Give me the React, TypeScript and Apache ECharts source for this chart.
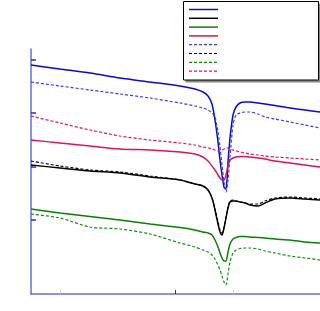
import React, { useEffect, useRef } from "react";
import * as echarts from "echarts";

// x positions (arbitrary units along the axis)
const xs = [0, 29, 59, 89, 119, 149, 164, 172, 177, 181, 184, 187, 189, 191, 193, 195, 197, 199, 202, 205, 209, 214, 219, 227, 234, 244, 259, 274, 289];

const blueSolid = [229, 225, 221, 216, 212, 208, 205, 202, 198, 190, 174, 152, 134, 119, 107, 105, 132, 156, 179, 187, 191, 192, 192, 191, 190, 188.5, 186, 184, 182];
const blackSolid = [129, 126, 123, 121, 117, 114, 110, 108, 104, 96, 84, 70, 62, 59, 66, 76, 86, 92, 93, 93, 92, 91, 89, 88, 91, 95, 96, 95, 94];
const greenSolid = [85, 81, 77.5, 74, 70, 66.5, 64, 62, 61, 59, 54, 47, 41, 36, 33, 33, 42, 50, 55, 56.5, 57.5, 57.5, 57, 56.5, 56, 55, 54, 52, 51];
const crimsonSolid = [154, 151, 148, 145, 144, 142, 140, 137, 133, 128, 124, 119, 116, 114, 114, 119, 128, 134, 136, 137, 137.5, 137.5, 137, 136, 135, 133, 131, 129, 127];
const blueDotted = [212, 208, 204, 200, 196, 191, 188, 186, 184, 181, 177, 162, 147, 129, 112, 102, 114, 137, 169, 179, 181, 182, 182, 180, 177, 175, 172, 169, 166];
const blackDotted = [133, 128, 124, 122, 118, 114, 110, 108, 104, 96, 85, 72, 64, 61, 67, 77, 87, 93, 94, 93, 92, 91, 90, 90, 93, 96, 97, 96, 95];
const greenDotted = [80, 76, 67, 65, 60, 51, 47, 44, 42, 39, 35, 29, 24, 18, 12, 9, 20, 32, 41, 44, 45.5, 46, 46, 45, 43, 41, 38, 36, 34];
const crimsonDotted = [178, 171, 164, 158, 154, 151, 149, 147, 146, 145, 144, 143, 143, 144, 145, 146, 146, 145, 144, 143, 142, 141, 140, 139, 138, 137, 136, 135, 134];

const yTicks = [74, 127, 181, 234];
const xMajorTicks = [144];
const xMinorTicks = [29, 202];

const seriesDefs = [
  { name: "A", data: blueSolid, color: "#0a0ad8", dash: null as null | number[] },
  { name: "B", data: blackSolid, color: "#000000", dash: null },
  { name: "C", data: greenSolid, color: "#0a800a", dash: null },
  { name: "D", data: crimsonSolid, color: "#e0125c", dash: null },
  { name: "E", data: blueDotted, color: "#3c3cf0", dash: [3, 2] },
  { name: "F", data: blackDotted, color: "#000000", dash: [3, 2] },
  { name: "G", data: greenDotted, color: "#0a900a", dash: [3, 2] },
  { name: "H", data: crimsonDotted, color: "#e0125c", dash: [3, 2] },
];

export default function App() {
  const ref = useRef<HTMLDivElement>(null);
  useEffect(() => {
    if (!ref.current) return;
    const chart = echarts.init(ref.current, undefined, { renderer: "svg" });
    const legendYs = [9.5, 18.3, 27.1, 35.9, 44.7, 53.5, 62.3, 71.1];
    const graphic: any[] = [
      { type: "rect", shape: { x: 185.5, y: 3.5, width: 135, height: 79 }, style: { fill: "#888888" }, z: 10 },
      { type: "rect", shape: { x: 183.5, y: 1.5, width: 135, height: 78.5 }, style: { fill: "#ffffff", stroke: "#000000", lineWidth: 1 }, z: 11 },
    ];
    seriesDefs.forEach((s, i) => {
      graphic.push({
        type: "line",
        shape: { x1: 189, y1: legendYs[i], x2: 218, y2: legendYs[i] },
        style: { stroke: s.color, lineWidth: s.dash ? 1.2 : 1.5, lineDash: s.dash || undefined },
        z: 12,
      });
    });
    chart.setOption({
      animation: false,
      grid: { left: 31, top: 49, right: 0, bottom: 17 },
      xAxis: [
        {
          type: "value",
          min: 0,
          max: 289,
          axisLine: { show: true, lineStyle: { color: "#6a6ae0", width: 1.5 } },
          axisTick: { show: true, inside: true, length: 4, customValues: xMajorTicks, lineStyle: { color: "#2a2ad0" } },
          axisLabel: { show: false },
          splitLine: { show: false },
        },
        {
          type: "value",
          min: 0,
          max: 289,
          position: "bottom",
          axisLine: { show: false },
          axisTick: { show: true, inside: true, length: 4, customValues: xMinorTicks, lineStyle: { color: "#c8c8f2" } },
          axisLabel: { show: false },
          splitLine: { show: false },
        },
      ],
      yAxis: {
        type: "value",
        min: 0,
        max: 245,
        axisLine: { show: true, lineStyle: { color: "#6a6ae0", width: 1.5 } },
        axisTick: { show: true, inside: true, length: 5, customValues: yTicks, lineStyle: { color: "#2a2ad0", width: 1.5 } },
        axisLabel: { show: false },
        splitLine: { show: false },
      },
      graphic,
      series: seriesDefs.map((s) => ({
        name: s.name,
        type: "line",
        xAxisIndex: 0,
        data: xs.map((x, i) => [x, s.data[i]]),
        showSymbol: false,
        symbol: "none",
        smooth: 0.25,
        lineStyle: { color: s.color, width: s.dash ? 1.2 : 1.5, type: s.dash ? s.dash : "solid" },
        z: 2,
      })),
    });
    return () => chart.dispose();
  }, []);
  return <div ref={ref} style={{ position: "fixed", left: 0, top: 0, width: 320, height: 311 }} />;
}
